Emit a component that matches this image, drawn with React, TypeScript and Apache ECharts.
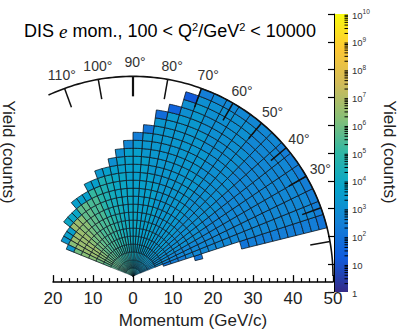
import React, { useEffect, useRef } from 'react';
import * as echarts from 'echarts';

// Polar bin edges (degrees) and momentum bin edges (GeV/c)
const angleEdges = [14, 18, 22, 26, 30, 34, 38, 42, 46, 50, 54, 58, 62, 66, 70, 74, 78, 82, 86, 90, 94, 98, 102, 106, 110, 114, 118, 122, 126, 130, 134, 138, 142, 146, 150, 154, 158];
const momentumEdges = [0, 2, 4, 6, 8, 10, 12, 14, 16, 18, 20, 22, 24, 26, 28, 30, 32, 34, 36, 38, 40, 42, 44, 46, 48, 50];

// Yield per cell, one string per angular bin, one character per momentum bin
// (a = 10^0, each next letter +0.3 decade; '.' = empty bin)
const yieldCodes = [
  '........h.....hiiiiiiiiih',
  '....hiijjjjjjjjjjjjjjjjji',
  'llkkjjjjjjjjjjjjjjjjjjjji',
  'llkkkjjjjjjjjjjjjjjjjjjji',
  'mllkkkkkkkjjjjjjjjjjjjjji',
  'mmlkkkkkkkkjjjjjjjjjjjjji',
  'mmlllkkkkkkkkkjjjjjjjjjji',
  'mmllllkkkkkkkkkkkjjjjjjjj',
  'nmllllllkkkkkkkkkkkkkjjjj',
  'nmmllllllllkkkkkkkkkkkkkj',
  'nmmllllllllllllkkkkkkkkkj',
  'nmmmllllllllllllllkkkkkkj',
  'nnmmmmllllllllllllllkkkkj',
  'nnmmmmmllllllllllllllllki',
  'onnmmmmmmllllllllllllkke',
  'onnnmmmmmmmmlllllllllf',
  'oonnnmmmmmmmmlllllllg',
  'poonnnnmmmmmmmmlllh',
  'pooonnnnnmmmmmmmli',
  'ppooonnnnnnmmmmmj',
  'qpppooonnnnnnmmk',
  'qqpppooooonnnmk',
  'rrqqqppppoooom',
  'rrrqqqqqpppppl',
  'rrrrrrrrqqqqm',
  'rrrrrrsssssrm',
  'rrrssssssssm',
  'rrsssssttttm',
  'rssssttttttm',
  'ssstttuuvvn',
  'sstttuuvvwn',
  'ssttuuvwwwn',
  'sttuvwwwwm',
  'stuuvwwwwm',
  'sttuvwwwvl',
  'rsttuvvul',
];

const momentumTicks = [-20, -10, 0, 10, 20, 30, 40, 50];
const angleTicks = [10, 20, 30, 40, 50, 60, 70, 80, 90, 100, 110];
const angleLabels = [30, 40, 50, 60, 70, 80, 90, 100, 110];
const colorbarDecades = [0, 1, 2, 3, 4, 5, 6, 7, 8, 9, 10];
const colorbarMinorFactors = [2, 3, 4, 5, 6, 7, 8, 9];

const birdColors = ['#352a87', '#0f5cdd', '#1481d6', '#06a4ca', '#2eb7a4', '#87bf77', '#d1bb59', '#fec832', '#f9fb0e'];
const FONT = 'Liberation Sans, Arial, Helvetica, sans-serif';

export default function App() {
  const ref = useRef<HTMLDivElement>(null);
  useEffect(() => {
    if (!ref.current) return;
    const chart = echarts.init(ref.current, null, { renderer: 'svg' });

    const cells: number[][] = [];
    yieldCodes.forEach((col, i) => {
      for (let j = 0; j < col.length; j++) {
        const ch = col[j];
        if (ch === '.') continue;
        cells.push([i, j, (ch.charCodeAt(0) - 97) * 0.3]);
      }
    });

    const rad = (d: number) => (d * Math.PI) / 180;

    const renderCell = (params: any, api: any) => {
      const i = api.value(0);
      const j = api.value(1);
      const t0 = rad(angleEdges[i]);
      const t1 = rad(angleEdges[i + 1]);
      const p0 = momentumEdges[j];
      const p1 = momentumEdges[j + 1];
      const n = 6;
      const pts: number[][] = [];
      for (let k = 0; k <= n; k++) {
        const t = t0 + ((t1 - t0) * k) / n;
        pts.push(api.coord([p1 * Math.cos(t), p1 * Math.sin(t)]));
      }
      if (p0 === 0) {
        pts.push(api.coord([0, 0]));
      } else {
        for (let k = n; k >= 0; k--) {
          const t = t0 + ((t1 - t0) * k) / n;
          pts.push(api.coord([p0 * Math.cos(t), p0 * Math.sin(t)]));
        }
      }
      return {
        type: 'polygon',
        shape: { points: pts },
        style: {
          fill: api.visual('color'),
          stroke: 'rgba(14,24,34,0.95)',
          lineWidth: p0 < 2 ? 0.3 : p0 < 6 ? 0.55 : 0.85,
        },
      };
    };

    const renderFrame = (params: any, api: any) => {
      const children: any[] = [];
      const arc: number[][] = [];
      for (let d = 0; d <= 115; d += 1) {
        arc.push(api.coord([50 * Math.cos(rad(d)), 50 * Math.sin(rad(d))]));
      }
      children.push({ type: 'polyline', shape: { points: arc }, style: { stroke: '#111', lineWidth: 1.6, fill: 'none' } });
      angleTicks.forEach((d) => {
        const a = api.coord([45 * Math.cos(rad(d)), 45 * Math.sin(rad(d))]);
        const b = api.coord([50 * Math.cos(rad(d)), 50 * Math.sin(rad(d))]);
        children.push({
          type: 'line',
          shape: { x1: a[0], y1: a[1], x2: b[0], y2: b[1] },
          style: { stroke: '#111', lineWidth: d === 90 ? 2.2 : 1.5 },
        });
      });
      angleLabels.forEach((d) => {
        const c = api.coord([53.5 * Math.cos(rad(d)), 53.5 * Math.sin(rad(d))]);
        children.push({
          type: 'text',
          x: c[0] + 2,
          y: c[1],
          style: {
            text: d + '°',
            fill: '#333',
            fontSize: 14,
            fontFamily: FONT,
            align: 'center',
            verticalAlign: 'middle',
            textAlign: 'center',
            textVerticalAlign: 'middle',
          },
        });
      });
      return { type: 'group', children };
    };

    const renderBar = (params: any, api: any) => {
      const tl = api.coord([0, 10]);
      const br = api.coord([1, 0]);
      const children: any[] = [
        {
          type: 'rect',
          shape: { x: tl[0], y: tl[1], width: br[0] - tl[0], height: br[1] - tl[1] },
          style: {
            fill: new echarts.graphic.LinearGradient(
              0, 1, 0, 0,
              birdColors.map((c, k) => ({ offset: k / (birdColors.length - 1), color: c }))
            ),
          },
        },
      ];
      colorbarDecades.slice(0, -1).forEach((dec) => {
        colorbarMinorFactors.forEach((f) => {
          const p = api.coord([1, dec + Math.log10(f)]);
          children.push({
            type: 'line',
            shape: { x1: p[0] - 3.5, y1: p[1], x2: p[0], y2: p[1] },
            style: { stroke: '#000', lineWidth: 1 },
          });
        });
      });
      return { type: 'group', children };
    };

    const option: any = {
      animation: false,
      textStyle: { fontFamily: FONT },
      grid: [
        { left: 53, right: 66, top: 52.4, bottom: 45.85 },
        { left: 334, width: 14, top: 14, height: 278 },
      ],
      xAxis: [
        {
          gridIndex: 0,
          type: 'value',
          min: -20,
          max: 50,
          interval: 10,
          z: 5,
          axisLine: { show: true, onZero: false, lineStyle: { color: '#000', width: 1.5 } },
          axisTick: { show: true, inside: true, length: 7, lineStyle: { color: '#000', width: 1.3 } },
          minorTick: { show: true, splitNumber: 5, length: 4, lineStyle: { color: '#000', width: 1.2 } },
          axisLabel: {
            formatter: (v: number) => (momentumTicks.includes(v) ? String(Math.abs(v)) : ''),
            fontSize: 17,
            color: '#222',
            margin: 8,
            fontFamily: FONT,
          },
          splitLine: { show: false },
          name: 'Momentum (GeV/c)',
          nameLocation: 'middle',
          nameGap: 25,
          nameTextStyle: { fontSize: 17, color: '#222', fontFamily: FONT },
        },
        { gridIndex: 1, type: 'value', min: 0, max: 1, show: false },
      ],
      yAxis: [
        { gridIndex: 0, type: 'value', min: -1.5, max: 56, show: false },
        {
          gridIndex: 1,
          type: 'value',
          min: 0,
          max: 10,
          interval: 1,
          position: 'right',
          z: 5,
          axisLine: { show: true, lineStyle: { color: '#000', width: 1 } },
          axisTick: { show: true, inside: true, length: 6, lineStyle: { color: '#000', width: 1.2 } },
          splitLine: { show: false },
          axisLabel: {
            margin: 4,
            formatter: (v: number) => (v === 0 ? '{b|1}' : v === 1 ? '{b|10}' : '{b|10}{p|' + v + '}'),
            rich: {
              b: { fontSize: 9.5, lineHeight: 12, color: '#333', fontFamily: FONT, verticalAlign: 'bottom' },
              p: { fontSize: 6.5, lineHeight: 7, color: '#333', fontFamily: FONT, verticalAlign: 'top' },
            },
          },
        },
      ],
      visualMap: {
        type: 'continuous',
        show: false,
        seriesIndex: 0,
        dimension: 2,
        min: 0,
        max: 10,
        inRange: { color: birdColors },
      },
      series: [
        {
          type: 'custom',
          name: 'cells',
          coordinateSystem: 'cartesian2d',
          xAxisIndex: 0,
          yAxisIndex: 0,
          silent: true,
          renderItem: renderCell,
          data: cells,
          z: 2,
        },
        {
          type: 'custom',
          name: 'frame',
          coordinateSystem: 'cartesian2d',
          xAxisIndex: 0,
          yAxisIndex: 0,
          silent: true,
          renderItem: renderFrame,
          data: [[0, 0]],
          z: 3,
        },
        {
          type: 'custom',
          name: 'colorbar',
          coordinateSystem: 'cartesian2d',
          xAxisIndex: 1,
          yAxisIndex: 1,
          silent: true,
          renderItem: renderBar,
          data: [[0, 0]],
          z: 2,
        },
      ],
      graphic: [
        {
          type: 'text',
          x: 170,
          y: 31,
          style: {
            text: '{a|DIS }{i|e}{a| mom., 100 < Q}{s|2}{a|/GeV}{s|2}{a| < 10000}',
            align: 'center',
            verticalAlign: 'middle',
            textAlign: 'center',
            textVerticalAlign: 'middle',
            rich: {
              a: { fontSize: 18, lineHeight: 20, fontFamily: FONT, color: '#222', verticalAlign: 'middle' },
              i: { fontSize: 19, lineHeight: 20, fontFamily: 'Liberation Serif, serif', fontStyle: 'italic', color: '#222', verticalAlign: 'middle' },
              s: { fontSize: 11, lineHeight: 14, fontFamily: FONT, color: '#222', verticalAlign: 'top' },
            },
          },
        },
        {
          type: 'text',
          x: 8,
          y: 152,
          rotation: -Math.PI / 2,
          style: {
            text: 'Yield (counts)',
            fontSize: 17,
            fontFamily: FONT,
            fill: '#222',
            align: 'center',
            verticalAlign: 'middle',
            textAlign: 'center',
            textVerticalAlign: 'middle',
          },
        },
        {
          type: 'text',
          x: 389,
          y: 152,
          rotation: -Math.PI / 2,
          style: {
            text: 'Yield (counts)',
            fontSize: 17,
            fontFamily: FONT,
            fill: '#222',
            align: 'center',
            verticalAlign: 'middle',
            textAlign: 'center',
            textVerticalAlign: 'middle',
          },
        },
      ],
    };
    chart.setOption(option);
    return () => chart.dispose();
  }, []);

  return <div ref={ref} style={{ position: 'absolute', left: 0, top: 0, width: 399, height: 334 }} />;
}
